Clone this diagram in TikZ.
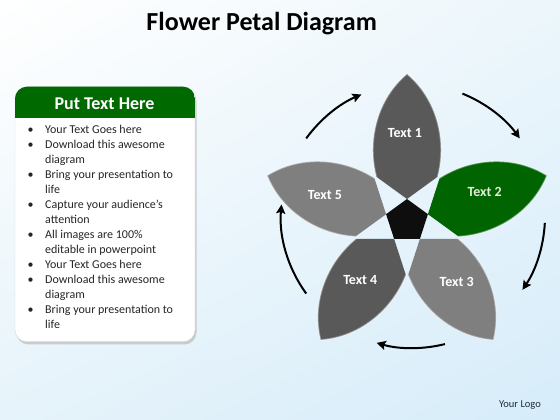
\documentclass[tikz,border=0pt]{standalone}
\usepackage{fontspec}
\setmainfont{Carlito}
\usetikzlibrary{calc,arrows.meta,shadings}
\definecolor{pgreen}{RGB}{0,100,0}
\definecolor{hgreen}{RGB}{0,106,0}
\definecolor{gdark}{RGB}{89,89,89}
\definecolor{glight}{RGB}{127,127,127}
\definecolor{pent}{RGB}{14,14,14}
\definecolor{logoc}{RGB}{32,44,60}
\definecolor{bgur}{RGB}{236,246,251}
\definecolor{bgll}{RGB}{230,243,250}
\definecolor{bglr}{RGB}{214,236,250}
\definecolor{lgreen}{RGB}{225,240,215}
\tikzset{
  bodytext/.style={inner sep=0pt, font={\fontsize{12}{15}\selectfont}, text=black!85},
  petallabel/.style={inner sep=0pt, font={\fontsize{14}{16}\selectfont\bfseries}, text=white},
  cyclearrow/.style={line width=2pt, -{Stealth[length=9pt,width=9pt,inset=1.5pt]}},
}
\begin{document}
\begin{tikzpicture}[x=1pt,y=1pt]
\useasboundingbox (0,0) rectangle (560,420);
% background
\shade[upper left=white, upper right=bgur, lower left=bgll, lower right=bglr]
  (0,0) rectangle (560,420);
% title
\node[inner sep=0pt, font={\fontsize{26}{30}\selectfont\bfseries}] (title) at (261.7,396) {Flower Petal Diagram};
% left panel
\fill[black!30, opacity=0.6, rounded corners=12] (16.5,75.5) rectangle (196.5,331);
\fill[white, draw=black!15, rounded corners=12] (15,78.3) rectangle (195,333.3);
\begin{scope}
  \clip[rounded corners=12] (15,78.3) rectangle (195,333.3);
  \fill[hgreen] (15,302) rectangle (195,334);
\end{scope}
\node[inner sep=0pt, text=white, font={\fontsize{18}{20}\selectfont\bfseries}] (head) at (104.5,316) {Put Text Here};
\foreach \y/\b/\t [count=\i] in {130/1/Your Text Goes here, 145/1/Download this awesome, 160/0/diagram,
  175/1/Bring your presentation to, 190/0/life, 205/1/Capture your audience’s, 220/0/attention,
  235/1/All images are 100\%, 250/0/editable in powerpoint, 265/1/Your Text Goes here,
  280/1/Download this awesome, 295/0/diagram, 310/1/Bring your presentation to, 325/0/life}
{
  \node[bodytext, anchor=base west] (ln\i) at (45,{416-\y}) {\t};
  \ifnum\b=1 \node[bodytext, anchor=base west] (bu\i) at (27.5,{416-\y}) {•};\fi
}
% flower
\coordinate (c) at (407,199);
\foreach \a/\col/\n in {90/gdark/1, 18/pgreen/2, -54/glight/3, -126/gdark/4, 162/glight/5}
{
  \coordinate (v\n) at ($(c)+(\a:22)$);
  \coordinate (i\n) at ($(c)+(\a:-5)$);
  \coordinate (t\n) at ($(c)+(\a:147)$);
  \begin{scope}
    \clip (v\n) -- ($(v\n)+(\a+54:250)$) -- ($(v\n)+(\a:300)$) -- ($(v\n)+(\a-54:250)$) -- cycle;
    \fill[\col] (i\n) to[bend left=50] (t\n) to[bend left=50] (i\n) -- cycle;
    \draw[white, opacity=0.35, line width=1.5pt] (i\n) to[bend left=50] (t\n) to[bend left=50] (i\n) -- cycle;
  \end{scope}
}
\fill[pent] (v1) -- (v2) -- (v3) -- (v4) -- (v5) -- cycle;
\node[petallabel] (l1) at (405,287.3) {Text 1};
\node[petallabel, text=lgreen] (l2) at (484.7,228.3) {Text 2};
\node[petallabel] (l3) at (456.7,138.3) {Text 3};
\node[petallabel] (l4) at (360.3,140) {Text 4};
\node[petallabel] (l5) at (325,225) {Text 5};
% arrows
\coordinate (ac) at (413,204);
\foreach \s/\e [count=\k] in {144/113, 68/36, -3/-34, -76/-106, 216/175}
{
  \coordinate (as\k) at ($(ac)+(\s:132)$);
  \draw[cyclearrow] (as\k) arc[start angle=\s, end angle=\e, radius=132];
}
\node[inner sep=0pt, text=logoc, font={\fontsize{10.5}{12}\selectfont}] (logo) at (520,15) {Your Logo};
\end{tikzpicture}
\end{document}
